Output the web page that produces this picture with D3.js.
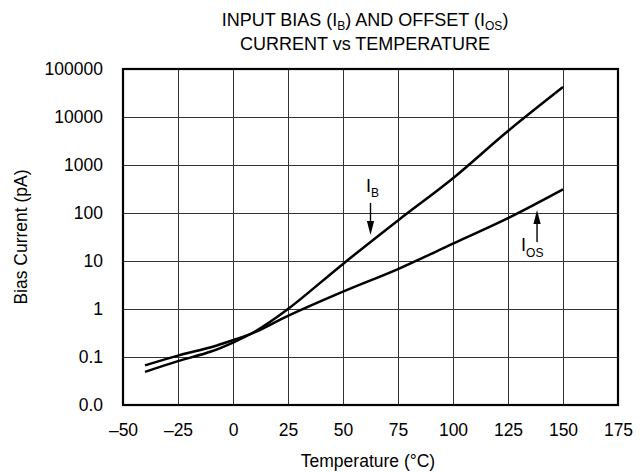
<!DOCTYPE html>
<html lang="en">
<head>
    <meta charset="utf-8">
    <title>Input Bias and Offset Current vs Temperature</title>
    <script src="https://cdn.jsdelivr.net/npm/d3@7"></script>
    <style>
        body { margin: 0; background: #fff; }
        svg text { font-family: "Liberation Sans", Arial, Helvetica, sans-serif; fill: #000; }
    </style>
</head>
<body>
<div id="chart"></div>

<script>
    // temperatures (deg C) and currents (pA)
    const ibTemps = [-40, -25, -10, 0, 10, 25, 50, 75, 100, 125, 150];
    const ibValues = [0.049, 0.082, 0.13, 0.2, 0.34, 1.0, 8.7, 70, 530, 5100, 42000];

    const iosTemps = [-40, -25, -10, 0, 10, 25, 50, 75, 100, 125, 150];
    const iosValues = [0.067, 0.107, 0.16, 0.225, 0.33, 0.72, 2.3, 6.8, 23, 78, 310];

    // axis ticks and their printed labels
    const xTicks = [-50, -25, 0, 25, 50, 75, 100, 125, 150, 175];
    const xTickLabels = ["\u201350", "\u201325", "0", "25", "50", "75", "100", "125", "150", "175"];
    const yTicks = [0.01, 0.1, 1, 10, 100, 1000, 10000, 100000];
    const yTickLabels = ["0.0", "0.1", "1", "10", "100", "1000", "10000", "100000"];

    // arrow annotations: tip point in data units
    const ibArrow = {t: 62.5, v: 35};
    const iosArrow = {t: 138.2, v: 116};

    // plot dimensions and margins
    const margin = {top: 69, right: 23, bottom: 68, left: 123};
    const width = 641 - margin.left - margin.right;
    const height = 473 - margin.top - margin.bottom;

    const svg = d3.select("#chart")
        .append("svg")
            .attr("width", 641)
            .attr("height", 473)
        .append("g")
            .attr("transform", "translate(" + margin.left + "," + margin.top + ")");

    const x = d3.scaleLinear()
        .domain([-50, 175])
        .range([0, width]);

    const y = d3.scaleLog()
        .domain([0.01, 100000])
        .range([height, 0]);

    // grid lines
    svg.append("g")
        .attr("class", "grid")
        .call(d3.axisBottom(x).tickValues(xTicks).tickSize(height).tickFormat(""))
        .call(g => g.select(".domain").remove())
        .selectAll("line")
            .attr("stroke", "#333")
            .attr("stroke-width", 1);

    svg.append("g")
        .attr("class", "grid")
        .call(d3.axisLeft(y).tickValues(yTicks).tickSize(-width).tickFormat(""))
        .call(g => g.select(".domain").remove())
        .selectAll("line")
            .attr("stroke", "#333")
            .attr("stroke-width", 1);

    // x-axis labels
    svg.append("g")
        .attr("transform", "translate(0," + height + ")")
        .call(d3.axisBottom(x).tickValues(xTicks).tickSize(0).tickPadding(19)
            .tickFormat((d, i) => xTickLabels[i]))
        .call(g => g.select(".domain").remove())
        .selectAll("text")
            .style("font-size", "17.5px")
            .attr("fill", "#000");

    // y-axis labels
    svg.append("g")
        .call(d3.axisLeft(y).tickValues(yTicks).tickSize(0).tickPadding(20)
            .tickFormat((d, i) => yTickLabels[i]))
        .call(g => g.select(".domain").remove())
        .selectAll("text")
            .style("font-size", "17.5px")
            .attr("fill", "#000");

    // plot border
    svg.append("rect")
        .attr("width", width)
        .attr("height", height)
        .attr("fill", "none")
        .attr("stroke", "#000")
        .attr("stroke-width", 2.2);

    // curves
    const line = d3.line()
        .x(d => x(d[0]))
        .y(d => y(d[1]))
        .curve(d3.curveCatmullRom.alpha(0.5));

    [[ibTemps, ibValues], [iosTemps, iosValues]].forEach(([ts, vs]) => {
        svg.append("path")
            .datum(d3.zip(ts, vs))
            .attr("fill", "none")
            .attr("stroke", "#000")
            .attr("stroke-width", 2.5)
            .attr("d", line);
    });

    // arrows with labels
    function arrow(tip, dir) {
        // dir = 1 points down, -1 points up
        const tx = x(tip.t), ty = y(tip.v);
        const len = 32, headH = 14, headW = 3.6;
        svg.append("line")
            .attr("x1", tx).attr("x2", tx)
            .attr("y1", ty - dir * len).attr("y2", ty - dir * headH)
            .attr("stroke", "#000")
            .attr("stroke-width", 1.4);
        svg.append("path")
            .attr("d", "M" + tx + "," + ty +
                "L" + (tx - headW) + "," + (ty - dir * headH) +
                "L" + (tx + headW) + "," + (ty - dir * headH) + "Z")
            .attr("fill", "#000");
        return {x: tx, y: ty - dir * len};
    }

    const ibTail = arrow(ibArrow, 1);
    const ibLabel = svg.append("text")
        .attr("x", ibTail.x - 4.5)
        .attr("y", ibTail.y - 10.5)
        .style("font-size", "18px");
    ibLabel.append("tspan").text("I");
    ibLabel.append("tspan").attr("dy", 4.6).style("font-size", "12px").text("B");

    const iosTail = arrow(iosArrow, -1);
    const iosLabel = svg.append("text")
        .attr("x", iosTail.x - 16)
        .attr("y", iosTail.y + 9)
        .style("font-size", "18px");
    iosLabel.append("tspan").text("I");
    iosLabel.append("tspan").attr("dy", 5.6).style("font-size", "12px").text("OS");

    // title
    const title = d3.select("svg").append("text")
        .attr("x", 365)
        .attr("y", 26)
        .attr("text-anchor", "middle")
        .style("font-size", "18px");
    title.append("tspan").text("INPUT BIAS (I");
    title.append("tspan").attr("dy", 4).style("font-size", "12px").text("B");
    title.append("tspan").attr("dy", -4).text(") AND OFFSET (I");
    title.append("tspan").attr("dy", 4).style("font-size", "12px").text("OS");
    title.append("tspan").attr("dy", -4).text(")");

    d3.select("svg").append("text")
        .attr("x", 365)
        .attr("y", 49.5)
        .attr("text-anchor", "middle")
        .style("font-size", "18px")
        .text("CURRENT vs TEMPERATURE");

    // axis titles
    d3.select("svg").append("text")
        .attr("x", 368)
        .attr("y", 466.5)
        .attr("text-anchor", "middle")
        .style("font-size", "17.5px")
        .text("Temperature (\u00B0C)");

    d3.select("svg").append("text")
        .attr("transform", "translate(26.5," + (margin.top + height / 2) + ") rotate(-90)")
        .attr("text-anchor", "middle")
        .style("font-size", "17.5px")
        .text("Bias Current (pA)");
</script>
</body>
</html>
